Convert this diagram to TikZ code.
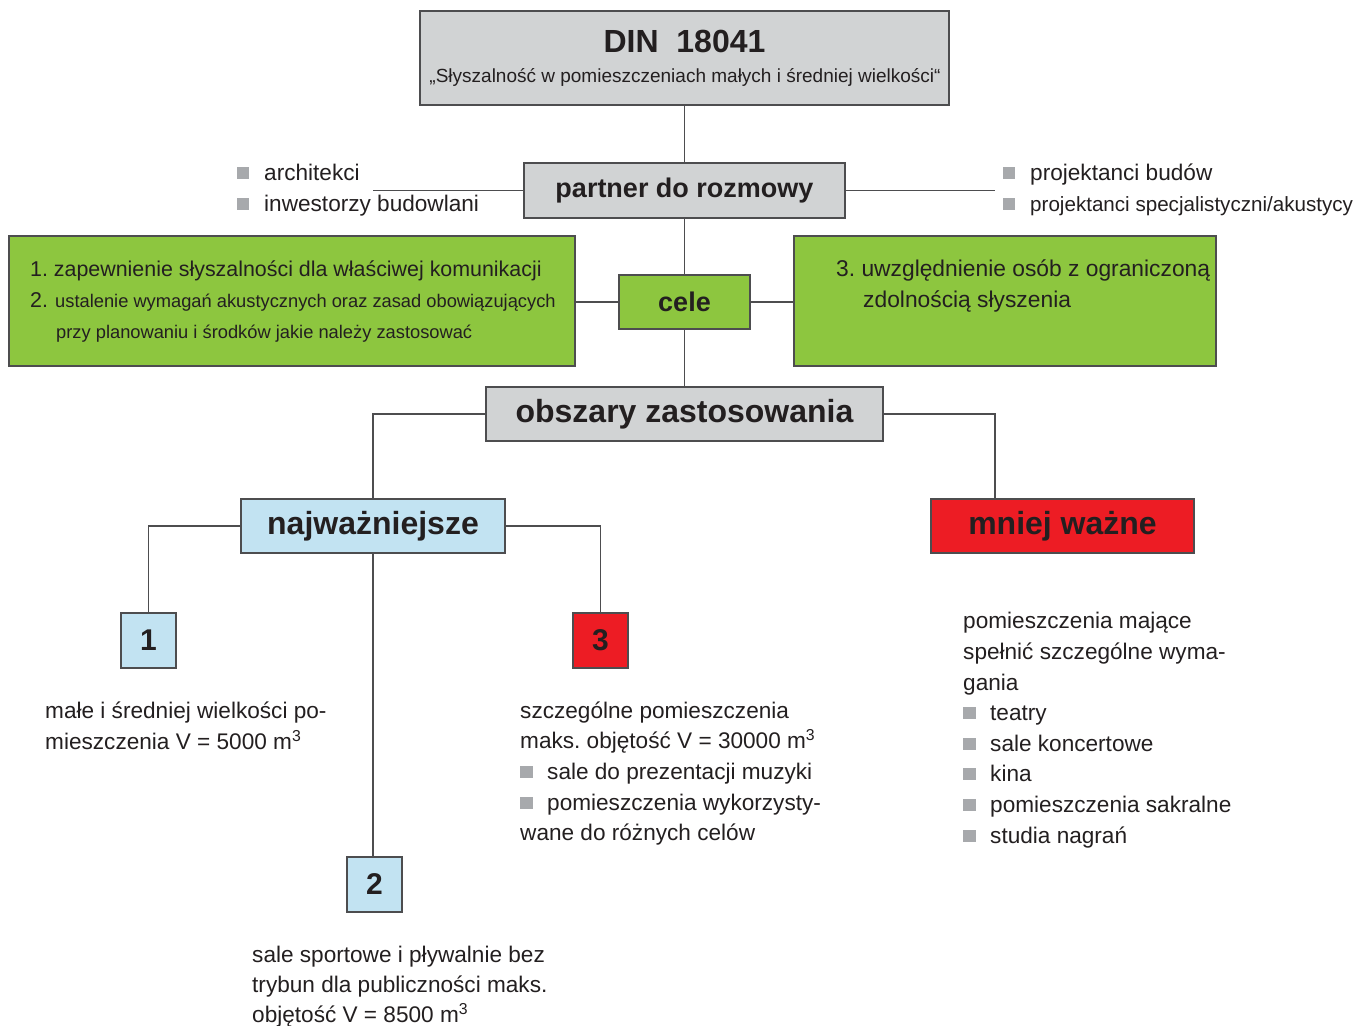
\documentclass[tikz,border=0pt]{standalone}
\usepackage{fontspec}
\setmainfont{Liberation Sans}
\definecolor{boxgray}{HTML}{D1D3D4}
\definecolor{lineg}{HTML}{4D4D4F}
\definecolor{green1}{HTML}{8DC63F}
\definecolor{blue1}{HTML}{C2E3F2}
\definecolor{red1}{HTML}{ED1C24}
\definecolor{bulg}{HTML}{A7A9AC}
\definecolor{txt}{HTML}{231F20}
\begin{document}
\frenchspacing
\begin{tikzpicture}[x=1pt,y=-1pt,
 box/.style={draw=lineg,line width=1.3pt,inner sep=0pt,text=txt},
 hd/.style={font=\fontsize{27}{30}\selectfont\bfseries},
 hdl/.style={font=\fontsize{32}{36}\selectfont\bfseries},
 conn/.style={draw=lineg,line width=1.2pt},
 tx/.style={anchor=base west,inner sep=0pt,text=txt,font=\fontsize{22.6}{27}\selectfont},
 txs/.style={anchor=base west,inner sep=0pt,text=txt,font=\fontsize{18.3}{22}\selectfont},
 bul/.style={fill=bulg,minimum size=12.5pt,inner sep=0pt},
]
\fill[white] (0,0) rectangle (1359,1025);
\useasboundingbox (0,0) rectangle (1359,1025);

% boxes
\node[box,fill=boxgray,minimum width=529pt,minimum height=94pt] (din) at (684.5,58) {};
\node[anchor=base,inner sep=0pt,text=txt,hdl] (dint) at (684.5,52.5) {DIN\ \ 18041};
\node[anchor=base,inner sep=0pt,text=txt,font=\fontsize{19}{22}\selectfont] (dins) at (685,82) {„Słyszalność w pomieszczeniach małych i średniej wielkości“};

\node[box,hd,fill=boxgray,minimum width=321pt,minimum height=55pt] (partner) at (684.5,190.5) {partner do rozmowy};
\node[box,hd,fill=green1,minimum width=131pt,minimum height=54pt] (cele) at (684.5,302) {cele};
\node[box,fill=green1,minimum width=566pt,minimum height=130pt] (gleft) at (292,301) {};
\node[box,fill=green1,minimum width=422pt,minimum height=130pt] (gright) at (1005,301) {};
\node[box,hdl,fill=boxgray,minimum width=397pt,minimum height=54pt] (obsz) at (684.5,414) {obszary zastosowania};
\node[box,hdl,fill=blue1,minimum width=264pt,minimum height=54pt] (najw) at (373,526) {najważniejsze};
\node[box,hdl,fill=red1,minimum width=263pt,minimum height=54pt] (mniej) at (1062.5,526) {mniej ważne};
\node[box,font=\fontsize{30}{32}\selectfont\bfseries,fill=blue1,minimum width=55pt,minimum height=55pt] (b1) at (148.5,640.5) {1};
\node[box,font=\fontsize{30}{32}\selectfont\bfseries,fill=red1,minimum width=55pt,minimum height=55pt] (b3) at (600.5,640.5) {3};
\node[box,font=\fontsize{30}{32}\selectfont\bfseries,fill=blue1,minimum width=55pt,minimum height=55pt] (b2) at (374.5,884.5) {2};

% free ends
\coordinate (pl) at (373,190.5);
\coordinate (pr) at (995,190.5);

% connectors
\draw[conn] (din.south) -- (partner.north);
\draw[conn] (partner.west) -- (pl);
\draw[conn] (partner.east) -- (pr);
\draw[conn] (partner.south) -- (cele.north);
\draw[conn] (cele.west) -- (gleft.east |- cele.west);
\draw[conn] (cele.east) -- (gright.west |- cele.east);
\draw[conn] (cele.south) -- (obsz.north);
\draw[conn] (obsz.west) -| (najw.north);
\draw[conn] (obsz.east) -| (mniej.north -| pr);
\draw[conn] (najw.west) -| (b1.north);
\draw[conn] (najw.east) -| (b3.north);
\draw[conn] (najw.south) -- (najw.south |- b2.north);

% partner lists
\node[bul] (bl1) at (243,173) {};
\node[tx] (tl1) at (264,180) {architekci};
\node[bul] (bl2) at (243,204) {};
\node[tx] (tl2) at (264,211) {inwestorzy budowlani};
\node[bul] (br1) at (1009,173) {};
\node[tx] (tr1) at (1030,180) {projektanci budów};
\node[bul] (br2) at (1009,204) {};
\node[tx,font=\fontsize{20.6}{26}\selectfont] (tr2) at (1030,211) {projektanci specjalistyczni/akustycy};

% goals
\node[tx,font=\fontsize{21.4}{26}\selectfont] (g1) at (30,276) {1. zapewnienie słyszalności dla właściwej komunikacji};
\node[tx,font=\fontsize{21.4}{26}\selectfont] (g2n) at (30,307) {2.};
\node[txs] (g2) at (55,307) {ustalenie wymagań akustycznych oraz zasad obowiązujących};
\node[txs] (g2b) at (56,338) {przy planowaniu i środków jakie należy zastosować};
\node[tx,font=\fontsize{22.8}{27}\selectfont] (g3) at (836,276) {3. uwzględnienie osób z ograniczoną};
\node[tx,font=\fontsize{22.8}{27}\selectfont] (g3b) at (863,307) {zdolnością słyszenia};

% texts under boxes
\node[tx] (s1a) at (45,718) {małe i średniej wielkości po-};
\node[tx] (s1b) at (45,749) {mieszczenia V = 5000 m\textsuperscript{3}};

\node[tx] (s3a) at (520,718) {szczególne pomieszczenia};
\node[tx] (s3b) at (520,748) {maks. objętość V = 30000 m\textsuperscript{3}};
\node[bul] (s3q1) at (526.5,772) {};
\node[tx] (s3c) at (547,779) {sale do prezentacji muzyki};
\node[bul] (s3q2) at (526.5,803) {};
\node[tx] (s3d) at (547,810) {pomieszczenia wykorzysty-};
\node[tx] (s3e) at (520,840) {wane do różnych celów};

\node[tx] (s2a) at (252,962) {sale sportowe i pływalnie bez};
\node[tx] (s2b) at (252,992) {trybun dla publiczności maks.};
\node[tx] (s2c) at (252,1022) {objętość V = 8500 m\textsuperscript{3}};

\node[tx] (m1) at (963,628) {pomieszczenia mające};
\node[tx] (m2) at (963,659) {spełnić szczególne wyma-};
\node[tx] (m3) at (963,690) {gania};
\node[bul] (mq1) at (969.5,713) {};
\node[tx] (m4) at (990,720) {teatry};
\node[bul] (mq2) at (969.5,744) {};
\node[tx] (m5) at (990,751) {sale koncertowe};
\node[bul] (mq3) at (969.5,774) {};
\node[tx] (m6) at (990,781) {kina};
\node[bul] (mq4) at (969.5,805) {};
\node[tx] (m7) at (990,812) {pomieszczenia sakralne};
\node[bul] (mq5) at (969.5,836) {};
\node[tx] (m8) at (990,843) {studia nagrań};
\end{tikzpicture}
\end{document}
